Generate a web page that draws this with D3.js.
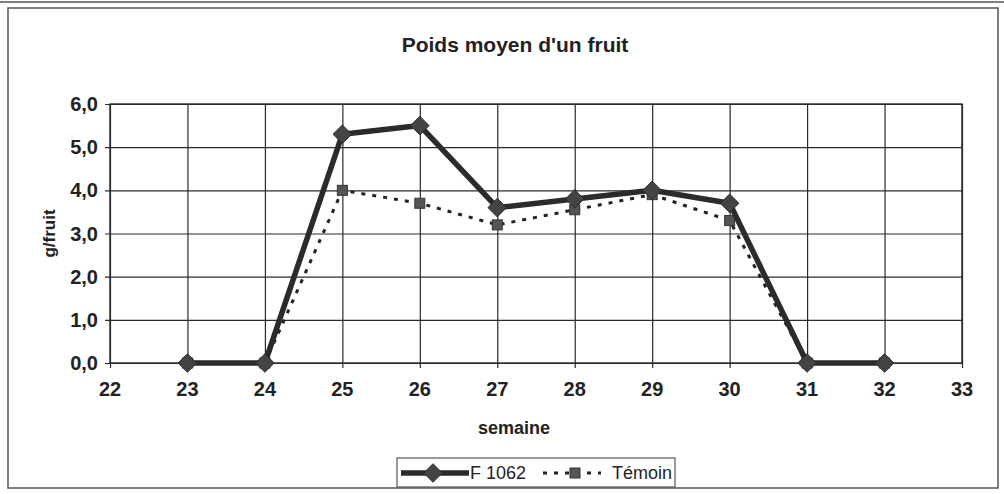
<!DOCTYPE html>
<html>
<head>
<meta charset="utf-8">
<script src="https://cdn.jsdelivr.net/npm/d3@7"></script>
<style>
  body { margin: 0; background: #fff; overflow: hidden; }
  svg { display: block; }
  text { fill: #222; font-family: "Liberation Sans", Arial, sans-serif; }
</style>
</head>
<body>
<svg width="1004" height="494"></svg>
<script>
const semaines = [23, 24, 25, 26, 27, 28, 29, 30, 31, 32];
const f1062 = [0, 0, 5.3, 5.5, 3.6, 3.8, 4.0, 3.7, 0, 0];
const temoin = [0, 0, 4.0, 3.7, 3.2, 3.55, 3.9, 3.3, 0, 0];
const xTicks = [22, 23, 24, 25, 26, 27, 28, 29, 30, 31, 32, 33];
const yTicks = [0, 1, 2, 3, 4, 5, 6];

const svg = d3.select('svg');
const width = +svg.attr('width');
const height = +svg.attr('height');

const fmt = d => d.toFixed(1).replace('.', ',');

// outer frame (double line on top, like the scan)
svg.append('line').attr('x1', 0).attr('x2', width).attr('y1', 2).attr('y2', 2)
    .attr('stroke', '#555').attr('stroke-width', 1.5);
svg.append('rect')
    .attr('x', 8).attr('y', 8).attr('width', 990).attr('height', 480)
    .attr('fill', 'none').attr('stroke', '#555').attr('stroke-width', 1.5);

const margin = { top: 104, right: 42, bottom: 131, left: 110 };
const innerWidth = width - margin.left - margin.right;
const innerHeight = height - margin.top - margin.bottom;

const xScale = d3.scaleLinear().domain([22, 33]).range([0, innerWidth]);
const yScale = d3.scaleLinear().domain([0, 6]).range([innerHeight, 0]);

const g = svg.append('g')
    .attr('transform', `translate(${margin.left},${margin.top})`);

// grid lines and tick marks from the axes, labels drawn separately
const xAxis = d3.axisBottom(xScale)
    .tickValues(xTicks)
    .tickSize(-innerHeight)
    .tickFormat('');
const yAxis = d3.axisLeft(yScale)
    .tickValues(yTicks)
    .tickSize(-innerWidth)
    .tickFormat('');

const xAxisG = g.append('g').call(xAxis)
    .attr('transform', `translate(0,${innerHeight})`);
xAxisG.select('.domain').remove();
xAxisG.selectAll('.tick line').attr('stroke', '#2a2a2a').attr('stroke-width', 1.2).attr('y1', 5);

const yAxisG = g.append('g').call(yAxis);
yAxisG.select('.domain').remove();
yAxisG.selectAll('.tick line').attr('stroke', '#2a2a2a').attr('stroke-width', 1.2).attr('x1', -5);

g.selectAll('.xlab').data(xTicks).enter().append('text')
    .attr('class', 'xlab')
    .attr('x', d => xScale(d))
    .attr('y', innerHeight + 33)
    .attr('text-anchor', 'middle')
    .attr('font-size', 20).attr('font-weight', 'bold')
    .text(d => d);

g.selectAll('.ylab').data(yTicks).enter().append('text')
    .attr('class', 'ylab')
    .attr('x', -12)
    .attr('y', d => yScale(d) + 7)
    .attr('text-anchor', 'end')
    .attr('font-size', 20).attr('font-weight', 'bold')
    .text(fmt);

g.append('rect')
    .attr('width', innerWidth).attr('height', innerHeight)
    .attr('fill', 'none').attr('stroke', '#2a2a2a').attr('stroke-width', 1.4);

// series
const data = semaines.map((s, i) => ({ s, f: f1062[i], t: temoin[i] }));

const lineT = d3.line().x(d => xScale(d.s)).y(d => yScale(d.t));
const lineF = d3.line().x(d => xScale(d.s)).y(d => yScale(d.f));

g.append('path').datum(data)
    .attr('d', lineT)
    .attr('fill', 'none')
    .attr('stroke', '#222')
    .attr('stroke-width', 3)
    .attr('stroke-dasharray', '4,7');

g.selectAll('.sq').data(data).enter().append('rect')
    .attr('class', 'sq')
    .attr('x', d => xScale(d.s) - 5)
    .attr('y', d => yScale(d.t) - 5)
    .attr('width', 10).attr('height', 10)
    .attr('fill', '#555').attr('stroke', '#333');

g.append('path').datum(data)
    .attr('d', lineF)
    .attr('fill', 'none')
    .attr('stroke', '#2b2b2b')
    .attr('stroke-width', 5.5)
    .attr('stroke-linejoin', 'round');

const diamond = d3.symbol().type(d3.symbolDiamond2).size(220);
g.selectAll('.dm').data(data).enter().append('path')
    .attr('class', 'dm')
    .attr('d', diamond)
    .attr('transform', d => `translate(${xScale(d.s)},${yScale(d.f)})`)
    .attr('fill', '#444').attr('stroke', '#2b2b2b').attr('stroke-width', 1);

// titles
svg.append('text')
    .attr('x', 515).attr('y', 52)
    .attr('text-anchor', 'middle')
    .attr('font-size', 21).attr('font-weight', 'bold')
    .text("Poids moyen d'un fruit");

svg.append('text')
    .attr('x', 514).attr('y', 434)
    .attr('text-anchor', 'middle')
    .attr('font-size', 18).attr('font-weight', 'bold')
    .text('semaine');

svg.append('text')
    .attr('transform', `translate(55,${margin.top + innerHeight / 2}) rotate(-90)`)
    .attr('text-anchor', 'middle')
    .attr('font-size', 17).attr('font-weight', 'bold')
    .text('g/fruit');

// legend
const leg = svg.append('g').attr('transform', 'translate(397,458)');
leg.append('rect')
    .attr('width', 278).attr('height', 29)
    .attr('fill', '#fff').attr('stroke', '#555').attr('stroke-width', 1.2);

leg.append('line').attr('x1', 4).attr('x2', 72).attr('y1', 15).attr('y2', 15)
    .attr('stroke', '#2b2b2b').attr('stroke-width', 5.5);
leg.append('path').attr('d', diamond)
    .attr('transform', 'translate(36,15)')
    .attr('fill', '#444').attr('stroke', '#2b2b2b');
leg.append('text').attr('x', 73).attr('y', 21)
    .attr('font-size', 18)
    .text('F 1062');

leg.append('line').attr('x1', 146).attr('x2', 204).attr('y1', 15).attr('y2', 15)
    .attr('stroke', '#222').attr('stroke-width', 3).attr('stroke-dasharray', '4,7');
leg.append('rect').attr('x', 173).attr('y', 10).attr('width', 10).attr('height', 10)
    .attr('fill', '#555').attr('stroke', '#333');
leg.append('text').attr('x', 215).attr('y', 21)
    .attr('font-size', 18)
    .text('Témoin');
</script>
</body>
</html>
